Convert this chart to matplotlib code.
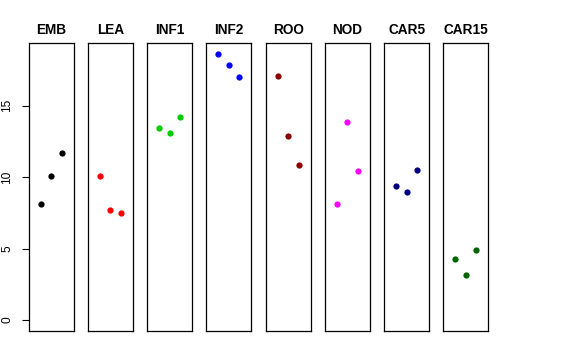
import matplotlib
matplotlib.use("Agg")
import matplotlib.pyplot as plt

plt.rcParams['font.family'] = ['Liberation Sans', 'DejaVu Sans']

groups = ["EMB", "LEA", "INF1", "INF2", "ROO", "NOD", "CAR5", "CAR15"]
colors = ["black", "#FF0000", "#00CD00", "#0000FF", "#8B0000", "#FF00FF", "#000080", "#006400"]
values = {
    "EMB":   [8.15, 10.08, 11.71],
    "LEA":   [10.10, 7.73, 7.50],
    "INF1":  [13.44, 13.11, 14.25],
    "INF2":  [18.63, 17.84, 17.02],
    "ROO":   [17.10, 12.88, 10.83],
    "NOD":   [8.15, 13.90, 10.43],
    "CAR5":  [9.38, 8.97, 10.51],
    "CAR15": [4.24, 3.14, 4.89],
}
reps = [1, 2, 3]
yticks = [0, 5, 10, 15]

W, H = 576, 360
fig = plt.figure(figsize=(W / 100, H / 100), dpi=100)

ymax = max(max(v) for v in values.values())
ymin = 0
yr = ymax - ymin
ylim = (ymin - 0.04 * yr, ymax + 0.04 * yr)
xlim = (0 - 0.16, 4 + 0.16)

left0 = 28.7
step = 59.23
pw = 45.0
top = 43.3
bottom = 330.7

for i, (g, c) in enumerate(zip(groups, colors)):
    l = left0 + i * step
    ax = fig.add_axes([l / W, (H - bottom) / H, pw / W, (bottom - top) / H])
    ax.plot(reps, values[g], 'o', color=c, markersize=4.5, markeredgewidth=0)
    ax.set_xlim(*xlim)
    ax.set_ylim(*ylim)
    ax.set_xticks([])
    for s in ax.spines.values():
        s.set_linewidth(0.9)
        s.set_color('black')
    ax.set_title(g, fontsize=9.8, fontweight='bold', pad=6.5)
    if i == 0:
        ax.set_yticks(yticks)
        ax.set_yticklabels([str(t) for t in yticks], rotation=90, va='center', fontsize=8.6)
        ax.tick_params(axis='y', length=5, width=0.8, pad=6)
    else:
        ax.set_yticks([])

fig.savefig("out.png", dpi=100)
